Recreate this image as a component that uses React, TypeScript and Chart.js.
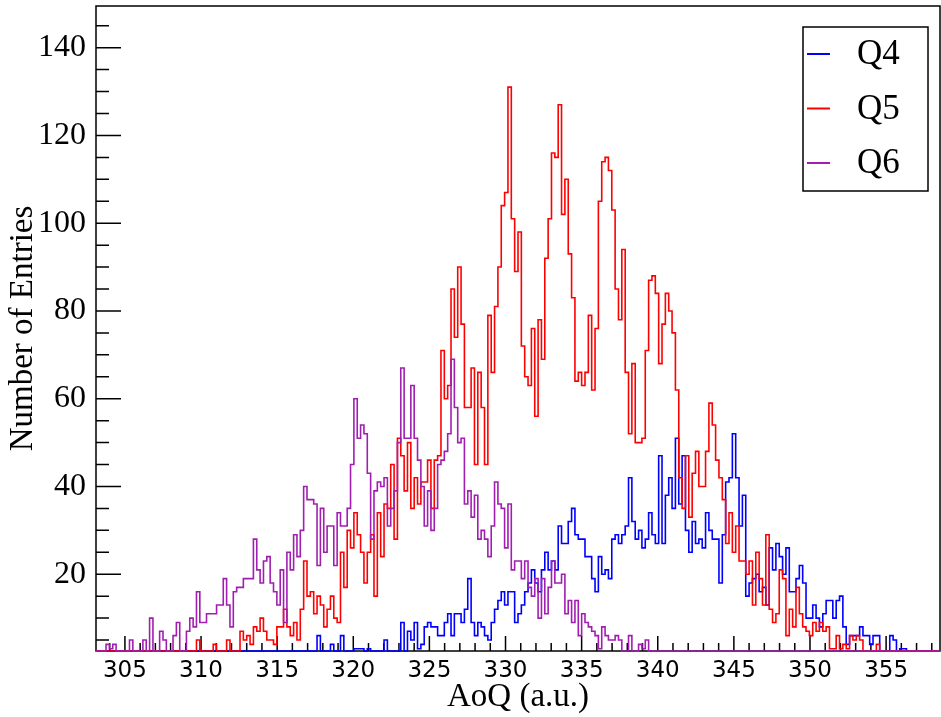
import React, { useEffect, useRef } from "react";
import { Chart, registerables } from "chart.js";

Chart.register(...registerables);

// ---- axis definition ----
const X_MIN = 303.1;
const BIN_WIDTH = 0.22;
const X_MAX = 358.54;
const Y_MIN = 2.5;
const Y_MAX = 149.5;
const X_TICKS = [305, 310, 315, 320, 325, 330, 335, 340, 345, 350, 355];
const Y_TICKS = [20, 40, 60, 80, 100, 120, 140];
const X_MINOR_STEP = 1;
const Y_MINOR_STEP = 5;
const X_TITLE = "AoQ (a.u.)";
const Y_TITLE = "Number of Entries";
const SERIES_LABELS = ["Q4", "Q5", "Q6"];
const SERIES_COLORS = ["#0000ff", "#ff0000", "#a01fb0"];

// ---- bin contents (252 bins of 0.22 from 303.1) ----
const Q4 = [
  0, 0, 0, 0, 0, 0, 0, 0, 0, 0, 0, 0, 0, 0, 0, 0, 0, 0, 0, 0,
  0, 0, 0, 0, 0, 0, 0, 0, 0, 0, 0, 0, 0, 0, 0, 0, 1, 0, 0, 0,
  0, 0, 0, 0, 0, 1, 0, 0, 0, 0, 0, 0, 0, 0, 0, 0, 0, 0, 0, 0,
  0, 0, 0, 0, 0, 0, 6, 1, 0, 1, 4, 1, 1, 6, 1, 1, 2, 3, 3, 3,
  2, 3, 1, 1, 2, 2, 5, 1, 2, 2, 2, 9, 2, 7, 5, 9, 3, 4, 8, 9,
  8, 8, 6, 6, 9, 11, 6, 11, 11, 9, 12, 19, 9, 6, 9, 8, 6, 5, 9, 12,
  14, 16, 13, 16, 16, 9, 11, 13, 16, 18, 21, 18, 16, 21, 25, 21, 23, 21, 31, 27,
  27, 32, 35, 29, 28, 28, 24, 24, 19, 16, 24, 20, 21, 19, 28, 29, 27, 29, 31, 42,
  32, 28, 30, 26, 28, 34, 29, 27, 47, 27, 38, 42, 35, 51, 36, 47, 30, 25, 32, 27,
  28, 26, 34, 30, 28, 28, 18, 29, 41, 42, 52, 42, 31, 38, 15, 18, 19, 20, 16, 17,
  13, 26, 21, 27, 24, 20, 26, 16, 16, 19, 22, 18, 10, 10, 13, 10, 8, 11, 14, 14,
  10, 14, 15, 8, 4, 6, 6, 6, 8, 6, 6, 4, 6, 6, 1, 1, 1, 6, 5, 1,
  3, 3, 0, 0, 0, 0, 0, 0, 0, 0, 0, 0,
];

const Q5 = [
  0, 0, 0, 0, 0, 0, 0, 0, 1, 0, 0, 1, 0, 0, 0, 1, 0, 0, 1, 0,
  0, 0, 1, 0, 0, 1, 0, 0, 1, 2, 5, 2, 1, 2, 1, 4, 2, 1, 2, 5,
  2, 1, 2, 7, 5, 6, 4, 8, 7, 10, 7, 5, 5, 4, 8, 8, 12, 8, 6, 9,
  5, 12, 23, 15, 16, 11, 15, 13, 8, 12, 15, 10, 9, 25, 17, 30, 26, 34, 29, 25,
  18, 25, 29, 15, 34, 24, 36, 35, 45, 28, 51, 47, 39, 50, 35, 42, 36, 41, 41, 46,
  35, 46, 47, 71, 60, 63, 85, 74, 90, 77, 58, 58, 67, 45, 66, 58, 45, 79, 66, 81,
  90, 104, 107, 131, 101, 89, 98, 72, 65, 63, 76, 56, 78, 69, 92, 101, 116, 115, 127, 102,
  110, 93, 83, 64, 66, 63, 66, 79, 62, 76, 105, 114, 115, 112, 103, 85, 78, 94, 66, 52,
  68, 50, 50, 51, 71, 87, 88, 84, 68, 77, 84, 80, 75, 62, 42, 35, 47, 33, 43, 48,
  40, 40, 48, 59, 54, 46, 42, 37, 27, 34, 25, 31, 23, 23, 20, 23, 13, 25, 19, 13,
  29, 12, 9, 11, 21, 19, 6, 12, 8, 17, 11, 8, 7, 6, 9, 7, 9, 7, 8, 3,
  3, 6, 3, 4, 3, 6, 5, 6, 5, 2, 1, 0, 1, 4, 0, 0, 0, 0, 0, 0,
  0, 0, 0, 0, 0, 0, 0, 0, 0, 0, 0, 0,
];

const Q6 = [
  1, 2, 1, 4, 3, 4, 2, 1, 2, 2, 5, 2, 1, 2, 5, 2, 10, 2, 1, 7,
  5, 2, 2, 6, 9, 2, 2, 7, 10, 8, 16, 9, 9, 11, 11, 11, 13, 13, 19, 13,
  8, 16, 17, 17, 19, 19, 19, 28, 21, 18, 23, 24, 18, 16, 13, 21, 9, 25, 21, 29,
  24, 30, 40, 37, 37, 36, 22, 35, 25, 31, 31, 22, 34, 31, 31, 35, 45, 60, 51, 54,
  52, 43, 28, 39, 41, 40, 42, 31, 35, 39, 50, 67, 51, 51, 63, 51, 46, 40, 31, 39,
  30, 35, 45, 46, 48, 52, 69, 58, 50, 51, 36, 39, 33, 38, 28, 30, 28, 24, 31, 41,
  36, 35, 26, 36, 21, 23, 23, 19, 23, 17, 15, 19, 10, 19, 11, 17, 23, 18, 18, 20,
  11, 14, 9, 14, 6, 11, 9, 8, 7, 6, 3, 8, 6, 5, 5, 6, 5, 2, 2, 6,
  1, 1, 4, 3, 5, 0, 0, 0, 0, 0, 0, 0, 0, 0, 0, 0, 0, 0, 0, 0,
  0, 0, 0, 0, 0, 0, 0, 0, 0, 0, 0, 0, 0, 0, 0, 0, 0, 0, 0, 0,
  0, 0, 0, 0, 0, 0, 0, 0, 0, 0, 0, 0, 0, 0, 0, 0, 0, 0, 0, 0,
  0, 0, 0, 0, 0, 0, 0, 0, 0, 0, 0, 0, 0, 0, 0, 0, 0, 0, 0, 0,
  0, 0, 0, 0, 0, 0, 0, 0, 0, 0, 0, 0,
];

const SERIES = [Q4, Q5, Q6];

function toSteps(values: number[]) {
  const pts = values.map((v, i) => ({ x: X_MIN + i * BIN_WIDTH, y: Math.max(v, Y_MIN) }));
  pts.push({ x: X_MIN + values.length * BIN_WIDTH, y: Math.max(values[values.length - 1], Y_MIN) });
  return pts;
}

const SERIF = "'Liberation Serif', 'Times New Roman', serif";

const framePlugin = {
  id: "rootFrame",
  beforeDatasetsDraw(chart: any) {
    const { ctx, chartArea: a, scales } = chart;
    const xs = scales.x;
    const ys = scales.y;
    ctx.save();
    ctx.strokeStyle = "#000";
    ctx.lineWidth = 1.5;
    ctx.strokeRect(a.left, a.top, a.right - a.left, a.bottom - a.top);
    ctx.beginPath();
    for (let v = Math.ceil(X_MIN); v <= X_MAX; v += X_MINOR_STEP) {
      const px = xs.getPixelForValue(v);
      const len = X_TICKS.includes(v) ? 15 : 8;
      ctx.moveTo(px, a.bottom);
      ctx.lineTo(px, a.bottom - len);
    }
    for (let v = Y_MINOR_STEP; v < Y_MAX; v += Y_MINOR_STEP) {
      if (v <= Y_MIN) continue;
      const py = ys.getPixelForValue(v);
      const len = Y_TICKS.includes(v) ? 25 : 13;
      ctx.moveTo(a.left, py);
      ctx.lineTo(a.left + len, py);
    }
    ctx.stroke();
    ctx.restore();
  },
  afterDatasetsDraw(chart: any) {
    const { ctx } = chart;
    ctx.save();
    const bx = 803, by = 27, bw = 125, bh = 164;
    ctx.fillStyle = "#fff";
    ctx.fillRect(bx, by, bw, bh);
    ctx.strokeStyle = "#000";
    ctx.lineWidth = 1.5;
    ctx.strokeRect(bx, by, bw, bh);
    chart.data.datasets.forEach((ds: any, i: number) => {
      const ly = 54 + i * 54.5;
      ctx.strokeStyle = ds.borderColor;
      ctx.lineWidth = 2;
      ctx.beginPath();
      ctx.moveTo(807, ly);
      ctx.lineTo(830, ly);
      ctx.stroke();
      ctx.fillStyle = "#000";
      ctx.font = `35px ${SERIF}`;
      ctx.textAlign = "left";
      ctx.textBaseline = "middle";
      ctx.fillText(ds.label, 857, ly + 1);
    });
    ctx.restore();
  },
};

export default function App() {
  const ref = useRef<HTMLCanvasElement | null>(null);

  useEffect(() => {
    if (!ref.current) return;
    const chart = new Chart(ref.current, {
      type: "line",
      data: {
        datasets: SERIES.map((vals, i) => ({
          label: SERIES_LABELS[i],
          data: toSteps(vals),
          borderColor: SERIES_COLORS[i],
          backgroundColor: SERIES_COLORS[i],
          borderWidth: 1.6,
          pointRadius: 0,
          stepped: "before" as const,
          fill: false,
          clip: 4,
          order: 2 - i,
        })),
      },
      options: {
        animation: false,
        responsive: false,
        devicePixelRatio: 1,
        parsing: false as any,
        normalized: true,
        layout: { padding: { left: 0, right: 1, top: 6, bottom: 0 } },
        plugins: { legend: { display: false }, tooltip: { enabled: false } },
        scales: {
          x: {
            type: "linear",
            min: X_MIN,
            max: X_MAX,
            grid: { display: false, drawTicks: false, tickLength: 0 },
            border: { display: false },
            afterBuildTicks: (s: any) => {
              s.ticks = X_TICKS.map((v) => ({ value: v }));
            },
            afterFit: (s: any) => {
              s.height = 66;
              s.paddingLeft = 0;
              s.paddingRight = 0;
            },
            ticks: {
              padding: 6,
              color: "#000",
              maxRotation: 0,
              autoSkip: false,
              font: { family: "'DejaVu Sans', sans-serif", size: 23 },
              callback: (v: any) => String(v),
            },
            title: {
              display: true,
              text: X_TITLE,
              color: "#000",
              font: { family: SERIF, size: 33 },
              padding: { top: 0, bottom: 0 },
            },
          },
          y: {
            type: "linear",
            min: Y_MIN,
            max: Y_MAX,
            grid: { display: false, drawTicks: false, tickLength: 0 },
            border: { display: false },
            afterBuildTicks: (s: any) => {
              s.ticks = Y_TICKS.map((v) => ({ value: v }));
            },
            afterFit: (s: any) => {
              s.width = 96;
              s.paddingTop = 0;
              s.paddingBottom = 0;
            },
            ticks: {
              padding: 10,
              color: "#000",
              autoSkip: false,
              font: { family: SERIF, size: 32 },
              callback: (v: any) => String(v),
            },
            title: {
              display: true,
              text: Y_TITLE,
              color: "#000",
              font: { family: SERIF, size: 33 },
              padding: { top: 4, bottom: 0 },
            },
          },
        },
      },
      plugins: [framePlugin],
    });
    return () => chart.destroy();
  }, []);

  return (
    <div style={{ position: "absolute", left: 0, top: 0, width: 941, height: 717, background: "#fff" }}>
      <canvas ref={ref} width={941} height={717} style={{ width: 941, height: 717, display: "block" }} />
    </div>
  );
}
